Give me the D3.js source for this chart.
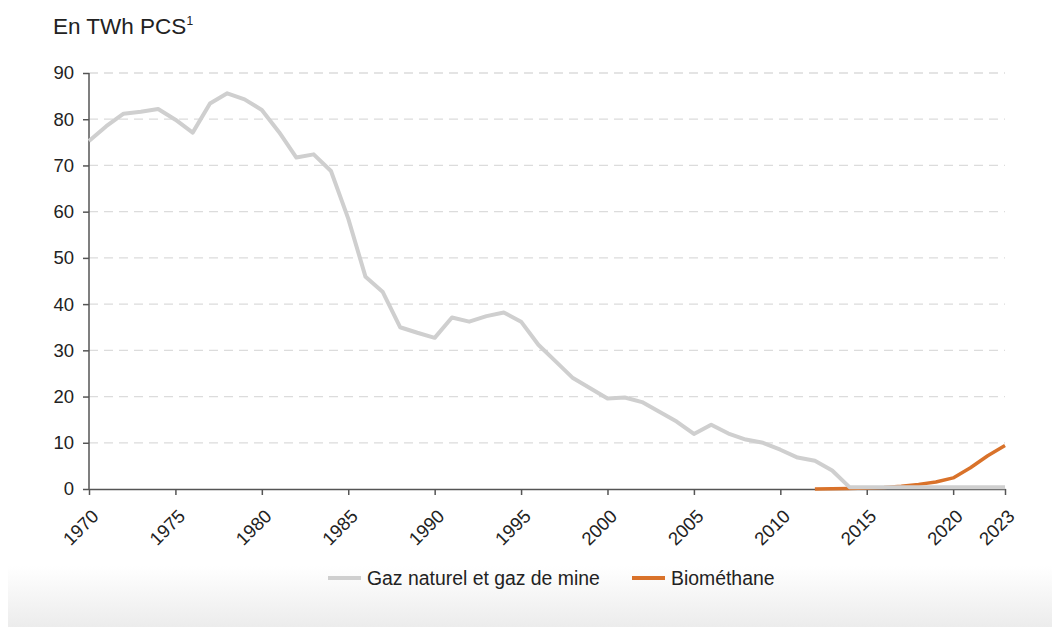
<!DOCTYPE html>
<meta charset="utf-8">
<style>
body { margin: 0; background: #fff; font-family: "Liberation Sans", Arial, sans-serif; }
svg { display: block; }
.grid line { stroke: #dcdcdc; stroke-width: 1.3; stroke-dasharray: 9,6; }
.axis path, .axis line { stroke: #555; stroke-width: 1.5; }
.axis text { fill: #222; font-size: 18.5px; font-family: "Liberation Sans", Arial, sans-serif; }
</style>
<body>
<script src="https://cdn.jsdelivr.net/npm/d3@7"></script>
<script>

var gasYears = d3.range(1970, 2024);
var gasValues = [75.3, 78.5, 81.2, 81.6, 82.2, 79.9, 77.1, 83.4, 85.6, 84.3,
  82.0, 77.2, 71.7, 72.4, 68.8, 58.5, 45.9, 42.6, 35.0, 33.8,
  32.7, 37.1, 36.2, 37.4, 38.2, 36.2, 31.2, 27.6, 24.0, 21.8,
  19.6, 19.8, 18.8, 16.7, 14.6, 11.9, 13.9, 12.0, 10.7, 10.0,
  8.5, 6.8, 6.1, 4.0, 0.4, 0.4, 0.4, 0.4, 0.4, 0.4,
  0.4, 0.4, 0.4, 0.4];
var bioYears = d3.range(2012, 2024);
var bioValues = [0.01, 0.05, 0.1, 0.2, 0.35, 0.6, 1.0, 1.5, 2.4, 4.6, 7.2, 9.4];
var xTicks = [1970, 1975, 1980, 1985, 1990, 1995, 2000, 2005, 2010, 2015, 2020, 2023];
var yTicks = [0, 10, 20, 30, 40, 50, 60, 70, 80, 90];
var seriesNames = ["Gaz naturel et gaz de mine", "Biométhane"];
var seriesColors = ["#cfcfcf", "#d9722a"];

var W = 1052, H = 627;
var svg = d3.select("body").append("svg")
  .attr("width", W).attr("height", H);

// fond dégradé en bas
var defs = svg.append("defs");
var grad = defs.append("linearGradient").attr("id", "bg")
  .attr("x1", 0).attr("y1", 0).attr("x2", 0).attr("y2", 1);
grad.append("stop").attr("offset", "0%").attr("stop-color", "#ffffff");
grad.append("stop").attr("offset", "100%").attr("stop-color", "#ececec");
svg.append("rect").attr("x", 8).attr("y", 566).attr("width", W - 8).attr("height", H - 566)
  .attr("fill", "url(#bg)");

var x = d3.scaleLinear().domain([1970, 2023]).range([89, 1005]);
var y = d3.scaleLinear().domain([0, 90]).range([489, 73]);

// titre
var title = svg.append("text").attr("x", 53).attr("y", 34)
  .attr("font-size", 22.5).attr("fill", "#222").text("En TWh PCS");
title.append("tspan").attr("font-size", 12).attr("dy", -9).text("1");

// grille
svg.append("g").attr("class", "grid")
  .selectAll("line").data(yTicks.filter(function (d) { return d > 0; }))
  .enter().append("line")
  .attr("x1", x(1970)).attr("x2", x(2023))
  .attr("y1", function (d) { return y(d); })
  .attr("y2", function (d) { return y(d); });

// axe y
var yAxis = svg.append("g").attr("class", "axis")
  .attr("transform", "translate(" + x(1970) + ",0)")
  .call(d3.axisLeft(y).tickValues(yTicks).tickSize(6).tickPadding(9).tickSizeOuter(0));
yAxis.select(".domain").remove();
yAxis.append("line").attr("x1", 0).attr("x2", 0).attr("y1", y(0)).attr("y2", y(90))
  .attr("stroke", "#555").attr("stroke-width", 1.5);

// axe x
var xAxis = svg.append("g").attr("class", "axis")
  .attr("transform", "translate(0," + y(0) + ")")
  .call(d3.axisBottom(x).tickValues(xTicks).tickFormat(d3.format("d")).tickSize(6).tickSizeOuter(0));
xAxis.selectAll("text")
  .attr("text-anchor", "end")
  .attr("dy", 0)
  .attr("font-size", 19)
  .attr("transform", "translate(4,22) rotate(-45)");

var line = d3.line()
  .x(function (d) { return x(d[0]); })
  .y(function (d) { return y(d[1]); });

svg.append("path")
  .datum(bioYears.map(function (d, i) { return [d, bioValues[i]]; }))
  .attr("fill", "none").attr("stroke", seriesColors[1]).attr("stroke-width", 3.5)
  .attr("stroke-linejoin", "round")
  .attr("d", line);

svg.append("path")
  .datum(gasYears.map(function (d, i) { return [d, gasValues[i]]; }))
  .attr("fill", "none").attr("stroke", seriesColors[0]).attr("stroke-width", 4)
  .attr("stroke-linejoin", "round")
  .attr("d", line);

// légende
var legendX = [328, 632];
var leg = svg.append("g").selectAll("g").data(seriesNames).enter().append("g")
  .attr("transform", function (d, i) { return "translate(" + legendX[i] + ",578)"; });
leg.append("line").attr("x1", 0).attr("x2", 33).attr("y1", 0).attr("y2", 0)
  .attr("stroke", function (d, i) { return seriesColors[i]; }).attr("stroke-width", 4);
leg.append("text").attr("x", 39).attr("y", 7).attr("font-size", 19.4).attr("fill", "#222")
  .text(function (d) { return d; });

</script>
</body>
